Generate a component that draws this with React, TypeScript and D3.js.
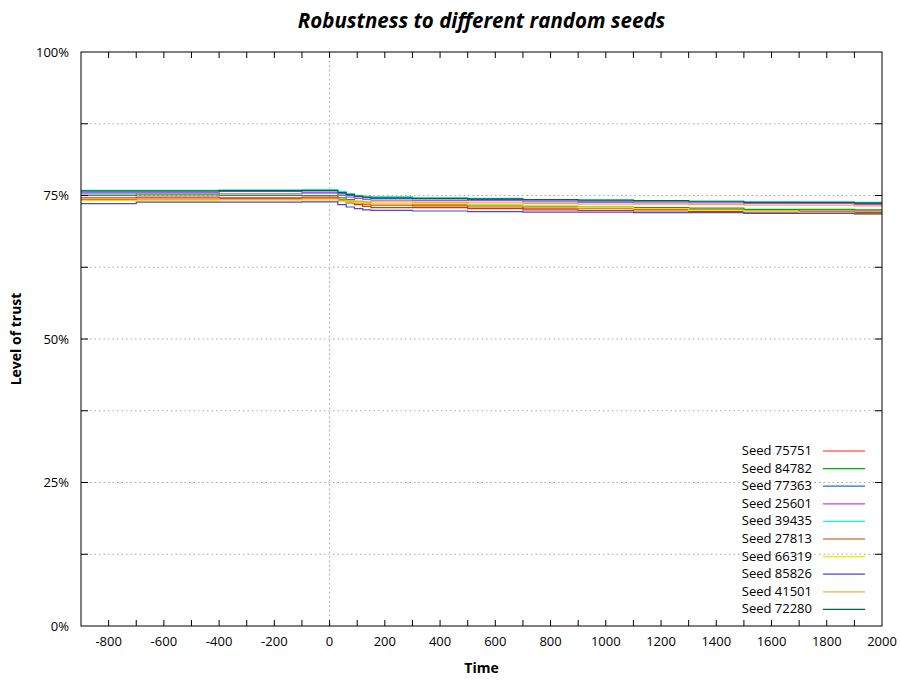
import React from "react";
import * as d3 from "d3";

// sample times (step-after)
const times = [-900, -700, -400, -100, 0, 30, 60, 90, 120, 150, 300, 500, 700, 900, 1100, 1300, 1500, 1700, 1900, 2000];

const seedNames = ["Seed 75751", "Seed 84782", "Seed 77363", "Seed 25601", "Seed 39435", "Seed 27813", "Seed 66319", "Seed 85826", "Seed 41501", "Seed 72280"];
const seedColors = ["#ff2020", "#00b000", "#1e6fd0", "#d040f0", "#10f0f0", "#c84000", "#e8e800", "#4848d0", "#f0b040", "#006a30"];

// level of trust in percent
const seed75751 = [74.6, 74.7, 74.6, 74.7, 74.7, 74.3, 74.0, 73.7, 73.5, 73.3, 73.2, 73.0, 72.8, 72.8, 72.6, 72.5, 72.5, 72.3, 72.3, 72.3];
const seed84782 = [75.0, 75.1, 75.0, 75.0, 75.0, 74.6, 74.3, 74.0, 73.8, 73.6, 73.5, 73.3, 73.1, 73.0, 72.9, 72.8, 72.6, 72.6, 72.5, 72.5];
const seed77363 = [75.6, 75.6, 75.7, 75.6, 75.6, 75.3, 75.0, 74.8, 74.6, 74.5, 74.4, 74.3, 74.2, 74.0, 74.0, 73.9, 73.8, 73.7, 73.6, 73.6];
const seed25601 = [75.3, 75.4, 75.3, 75.4, 75.4, 75.0, 74.7, 74.5, 74.3, 74.2, 74.1, 74.1, 73.9, 73.8, 73.7, 73.7, 73.6, 73.6, 73.4, 73.4];
const seed39435 = [75.9, 75.9, 75.9, 76.0, 76.0, 75.7, 75.3, 75.0, 74.9, 74.8, 74.6, 74.5, 74.3, 74.2, 74.1, 74.0, 73.9, 73.9, 73.8, 73.8];
const seed27813 = [74.3, 74.4, 74.4, 74.5, 74.5, 74.1, 73.7, 73.4, 73.1, 72.9, 72.9, 72.7, 72.5, 72.4, 72.3, 72.2, 72.1, 72.1, 72.0, 72.0];
const seed66319 = [74.1, 74.1, 74.2, 74.2, 74.2, 74.0, 73.9, 73.8, 73.7, 73.6, 73.6, 73.4, 73.2, 72.9, 72.7, 72.4, 72.2, 72.0, 71.7, 71.7];
const seed85826 = [73.6, 73.85, 73.85, 73.9, 73.9, 73.4, 73.0, 72.7, 72.5, 72.4, 72.3, 72.2, 72.1, 72.1, 72.0, 72.0, 71.9, 71.9, 71.8, 71.8];
const seed41501 = [74.4, 74.4, 74.3, 74.4, 74.4, 74.2, 74.1, 74.0, 74.0, 73.9, 73.8, 73.7, 73.6, 73.5, 73.5, 73.4, 73.3, 73.3, 73.2, 73.2];
const seed72280 = [75.8, 75.8, 75.9, 75.9, 75.9, 75.5, 75.2, 74.9, 74.7, 74.6, 74.5, 74.4, 74.3, 74.2, 74.1, 74.0, 73.8, 73.8, 73.7, 73.7];

const allSeries = [seed75751, seed84782, seed77363, seed25601, seed39435, seed27813, seed66319, seed85826, seed41501, seed72280];

const xTickLabels = [-800, -600, -400, -200, 0, 200, 400, 600, 800, 1000, 1200, 1400, 1600, 1800, 2000];
const yTickLabels = [0, 25, 50, 75, 100];

const W = 900;
const H = 680;
const m = { left: 81, right: 18, top: 52, bottom: 54 };

export default function App() {
  const x = d3.scaleLinear().domain([-900, 2000]).range([m.left, W - m.right]);
  const y = d3.scaleLinear().domain([0, 100]).range([H - m.bottom, m.top]);
  const font = "'Open Sans', sans-serif";

  const line = d3
    .line<number>()
    .x((_, i) => x(times[i]))
    .y((v) => y(v))
    .curve(d3.curveStepAfter);

  const minorX = d3.range(-900, 2001, 100);
  const yGrid = d3.range(0, 100.1, 12.5);
  const x0 = m.left, x1 = W - m.right, y0 = H - m.bottom, y1 = m.top;

  return (
    <svg width={W} height={H} style={{ position: "absolute", left: 0, top: 0, background: "#fff" }}>
      {/* grid */}
      {yGrid.filter((v) => v > 0 && v < 100).map((v) => (
        <line key={"gy" + v} x1={x0} x2={x1} y1={y(v)} y2={y(v)} stroke="#a8a8a8" strokeWidth={1} strokeDasharray="1.5,3" />
      ))}
      <line x1={x(0)} x2={x(0)} y1={y1} y2={y0} stroke="#a8a8a8" strokeWidth={1} strokeDasharray="1.5,3" />

      {/* series */}
      {allSeries.map((s, i) => (
        <path key={seedNames[i]} d={line(s) || ""} fill="none" stroke={seedColors[i]} strokeWidth={1.2} />
      ))}

      {/* ticks (mirrored) */}
      {minorX.filter((v) => v > -900 && v < 2000).map((v) => (
        <g key={"tx" + v} stroke="#000" strokeWidth={1}>
          <line x1={x(v)} x2={x(v)} y1={y0} y2={y0 - 6} />
          <line x1={x(v)} x2={x(v)} y1={y1} y2={y1 + 6} />
        </g>
      ))}
      {yGrid.filter((v) => v > 0 && v < 100).map((v) => (
        <g key={"ty" + v} stroke="#000" strokeWidth={1}>
          <line x1={x0} x2={x0 + 7} y1={y(v)} y2={y(v)} />
          <line x1={x1} x2={x1 - 7} y1={y(v)} y2={y(v)} />
        </g>
      ))}
      <rect x={x0} y={y1} width={x1 - x0} height={y0 - y1} fill="none" stroke="#000" strokeWidth={1} />

      {/* tick labels */}
      {xTickLabels.map((v) => (
        <text key={"lx" + v} x={x(v)} y={y0 + 20} textAnchor="middle" fontFamily={font} fontSize={13} fill="#000">
          {v}
        </text>
      ))}
      {yTickLabels.map((v) => (
        <text key={"ly" + v} x={x0 - 12} y={y(v) + 4.5} textAnchor="end" fontFamily={font} fontSize={13} fill="#000">
          {v + "%"}
        </text>
      ))}

      {/* legend */}
      {seedNames.map((name, i) => (
        <g key={"lg" + name}>
          <text x={812} y={455 + i * 17.6} textAnchor="end" fontFamily={font} fontSize={13} fill="#000">
            {name}
          </text>
          <line x1={823} x2={865} y1={451 + i * 17.6} y2={451 + i * 17.6} stroke={seedColors[i]} strokeWidth={1.2} />
        </g>
      ))}

      {/* titles */}
      <text x={(x0 + x1) / 2} y={28} textAnchor="middle" fontFamily={font} fontSize={20.5} fontWeight="bold" fontStyle="italic" fill="#000">
        Robustness to different random seeds
      </text>
      <text x={(x0 + x1) / 2} y={673} textAnchor="middle" fontFamily={font} fontSize={14} fontWeight="bold" fill="#000">
        Time
      </text>
      <text transform={`translate(21,${(y0 + y1) / 2}) rotate(-90)`} textAnchor="middle" fontFamily={font} fontSize={14} fontWeight="bold" fill="#000">
        Level of trust
      </text>
    </svg>
  );
}
